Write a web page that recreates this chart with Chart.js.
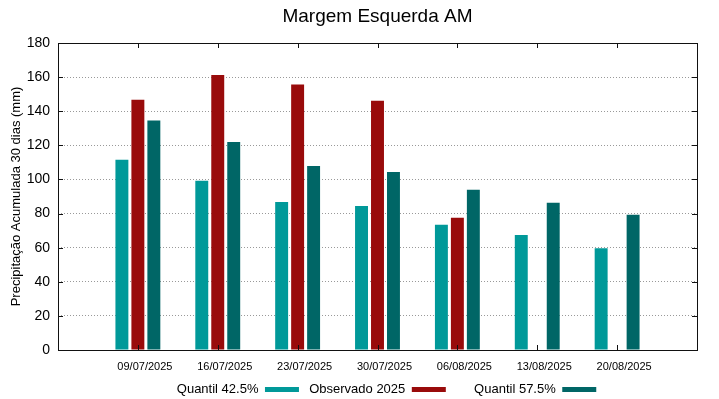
<!DOCTYPE html>
<html>
<head>
<meta charset="utf-8">
<script src="https://cdn.jsdelivr.net/npm/chart.js@4"></script>
<style>
  body { margin: 0; background: #fff; }
</style>
</head>
<body>
<canvas id="grafico" width="719" height="399"></canvas>
<script>
// datas das semanas
const datas = ['09/07/2025', '16/07/2025', '23/07/2025', '30/07/2025', '06/08/2025', '13/08/2025', '20/08/2025'];
const quantil425 = [111.6, 99.3, 86.8, 84.4, 73.4, 67.5, 59.7];
const observado = [146.7, 161.2, 155.6, 146.1, 77.6, null, null];
const quantil575 = [134.5, 122.0, 107.9, 104.4, 93.9, 86.3, 79.3];
const yTicks = [0, 20, 40, 60, 80, 100, 120, 140, 160, 180];

// uma posicao vazia em cada ponta, como no grafico original
const rotulos = [''].concat(datas, ['']);
const pad = arr => [null].concat(arr, [null]);

Chart.defaults.font.family = '"Liberation Sans", Arial, sans-serif';
Chart.defaults.color = '#000';

// moldura e marcas para dentro (estilo gnuplot)
const moldura = {
    id: 'moldura',
    afterDatasetsDraw(chart) {
        const ctx = chart.ctx;
        const a = chart.chartArea;
        const sx = chart.scales.x, sy = chart.scales.y;
        ctx.save();
        ctx.strokeStyle = '#111';
        ctx.lineWidth = 1;
        ctx.beginPath();
        yTicks.forEach(v => {
            const y = Math.round(sy.getPixelForValue(v)) + 0.5;
            ctx.moveTo(a.left, y); ctx.lineTo(a.left + 5, y);
            ctx.moveTo(a.right, y); ctx.lineTo(a.right - 5, y);
        });
        datas.forEach(d => {
            const x = Math.round(sx.getPixelForValue(d)) + 0.5;
            ctx.moveTo(x, a.bottom); ctx.lineTo(x, a.bottom - 5);
            ctx.moveTo(x, a.top); ctx.lineTo(x, a.top + 5);
        });
        ctx.stroke();
        ctx.strokeRect(Math.round(a.left) + 0.5, Math.round(a.top) + 0.5,
            Math.round(a.right - a.left), Math.round(a.bottom - a.top));
        ctx.restore();
    }
};

// espacos na frente do texto imitam as colunas da legenda do gnuplot
const espacos = ['     ', '  ', '       '];
function legendaLabels(chart) {
    const itens = Chart.defaults.plugins.legend.labels.generateLabels(chart);
    itens.forEach(it => { it.text = espacos[it.datasetIndex] + it.text; });
    return itens;
}

const chartData = {
    labels: rotulos,
    datasets: [
        { label: 'Quantil 42.5%', data: pad(quantil425), backgroundColor: '#009999' },
        { label: 'Observado 2025', data: pad(observado), backgroundColor: '#990b0b' },
        { label: 'Quantil 57.5%', data: pad(quantil575), backgroundColor: '#006666' }
    ]
};

new Chart(document.getElementById('grafico'), {
    type: 'bar',
    data: chartData,
    plugins: [moldura],
    options: {
        responsive: false,
        animation: false,
        layout: { padding: { left: 0, right: 22, top: 0, bottom: -7 } },
        datasets: { bar: { categoryPercentage: 0.6, barPercentage: 0.81 } },
        plugins: {
            title: {
                display: true,
                fullSize: false,
                text: 'Margem Esquerda AM',
                font: { size: 19, weight: 'normal' },
                color: '#000',
                padding: { top: 5, bottom: 15.2 }
            },
            legend: {
                position: 'bottom',
                fullSize: false,
                rtl: true,
                reverse: true,
                labels: {
                    font: { size: 13 }, color: '#000', boxWidth: 34, boxHeight: 5, padding: 3,
                    generateLabels: legendaLabels
                }
            },
            tooltip: { enabled: false }
        },
        scales: {
            x: {
                offset: false,
                afterFit: s => { s.height = 30; },
                grid: { display: false, drawTicks: false },
                border: { display: false },
                ticks: { font: { size: 11 }, color: '#000', padding: 10, labelOffset: 7, autoSkip: false, maxRotation: 0 }
            },
            y: {
                min: 0,
                max: 180,
                afterFit: s => { s.width = 58; },
                afterBuildTicks: s => { s.ticks = yTicks.map(v => ({ value: v })); },
                grid: { color: '#999', drawTicks: false },
                border: { display: false, dash: [1, 2] },
                ticks: { font: { size: 14 }, color: '#000', padding: 8 },
                title: {
                    display: true,
                    text: 'Precipitação Acumulada 30 dias (mm)',
                    font: { size: 13 },
                    color: '#000',
                    padding: { top: 9, bottom: 0 }
                }
            }
        }
    }
});
</script>
</body>
</html>
